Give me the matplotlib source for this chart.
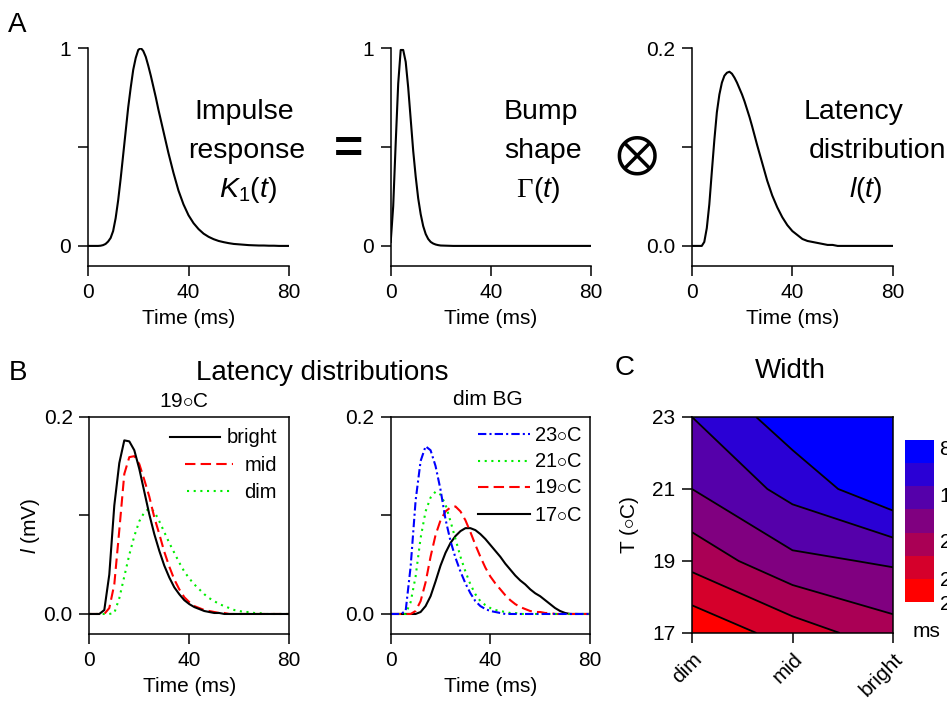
import matplotlib
matplotlib.use('Agg')
import matplotlib.pyplot as plt

plt.rcParams['font.family'] = ['Liberation Sans', 'DejaVu Sans']
plt.rcParams['mathtext.fontset'] = 'custom'
plt.rcParams['mathtext.rm'] = 'Liberation Sans'
plt.rcParams['mathtext.it'] = 'Liberation Sans:italic'
plt.rcParams['axes.linewidth'] = 1.1

# time axis (ms) for the sampled curves
time_ms = [0, 2, 4, 6, 8, 10, 12, 14, 16, 18, 20, 22, 24, 26, 28, 30, 32, 34, 36, 38, 40,
           42, 44, 46, 48, 50, 52, 54, 56, 58, 60, 62, 64, 66, 68, 70, 72, 74, 76, 78, 80]

# A: impulse response, bump shape, latency distribution (finer steps around the peaks)
k1_t = [0, 2, 4, 5, 6, 7, 8, 9, 10, 11, 12, 13, 14, 15, 16, 17, 18, 19, 20, 21, 22, 23, 24,
        25, 26, 27, 28, 29, 30, 32, 34, 36, 38, 40, 42, 44, 46, 48, 50, 52, 54, 56, 58, 60,
        62, 64, 66, 68, 70, 72, 74, 76, 80]
impulse_k1 = [0, 0, 0, 0.001, 0.004, 0.01, 0.022, 0.04, 0.075, 0.14, 0.23, 0.34, 0.46, 0.58,
              0.70, 0.80, 0.89, 0.95, 0.99, 1.0, 0.985, 0.955, 0.91, 0.86, 0.805, 0.75, 0.69,
              0.635, 0.58, 0.47, 0.37, 0.28, 0.21, 0.155, 0.115, 0.085, 0.062, 0.046, 0.034,
              0.025, 0.019, 0.014, 0.010, 0.008, 0.006, 0.004, 0.003, 0.002, 0.002, 0.001,
              0.001, 0, 0]
bump_t = [0, 1, 2, 3, 4, 5, 6, 7, 8, 9, 10, 11, 12, 13, 14, 15, 16, 17, 18, 19, 20, 25, 80]
bump_gamma = [0.02, 0.2, 0.52, 0.82, 0.99, 0.99, 0.93, 0.80, 0.64, 0.48, 0.35, 0.24, 0.16, 0.10,
              0.06, 0.035, 0.02, 0.012, 0.007, 0.004, 0.002, 0, 0]
lat_t = [0, 2, 4, 5, 6, 7, 8, 9, 10, 11, 12, 13, 14, 15, 16, 17, 18, 19, 20, 21, 22, 23, 24,
         26, 28, 30, 32, 34, 36, 38, 40, 42, 44, 46, 48, 50, 52, 54, 56, 58, 80]
latency_l = [0, 0, 0, 0.004, 0.018, 0.042, 0.075, 0.107, 0.135, 0.153, 0.165, 0.172, 0.175,
             0.176, 0.174, 0.170, 0.165, 0.159, 0.153, 0.146, 0.138, 0.130, 0.121, 0.102,
             0.084, 0.066, 0.051, 0.039, 0.029, 0.021, 0.015, 0.011, 0.007, 0.005, 0.004,
             0.003, 0.002, 0.001, 0.001, 0, 0]

# B left: 19 C, three backgrounds
bright = [0, 0, 0, 0.004, 0.04, 0.11, 0.153, 0.176, 0.175, 0.166, 0.147, 0.124, 0.101, 0.081,
          0.064, 0.049, 0.037, 0.027, 0.020, 0.014, 0.010, 0.007, 0.005, 0.003, 0.002, 0.001,
          0.001, 0, 0, 0, 0, 0, 0, 0, 0, 0, 0, 0, 0, 0, 0]
mid = [0, 0, 0, 0, 0.006, 0.03, 0.085, 0.142, 0.159, 0.160, 0.152, 0.136, 0.119, 0.098, 0.081,
       0.063, 0.048, 0.035, 0.025, 0.017, 0.012, 0.008, 0.006, 0.004, 0.003, 0.002, 0.001, 0.001,
       0, 0, 0, 0, 0, 0, 0, 0, 0, 0, 0, 0, 0]
dim = [0, 0, 0, 0, 0, 0.001, 0.016, 0.038, 0.06, 0.079, 0.094, 0.103, 0.107, 0.104, 0.094, 0.083,
       0.072, 0.062, 0.052, 0.043, 0.036, 0.030, 0.025, 0.020, 0.016, 0.013, 0.010, 0.008, 0.006,
       0.004, 0.003, 0.002, 0.002, 0.001, 0.001, 0, 0, 0, 0, 0, 0]

# B right: dim background, four temperatures
t23 = [0, 0, 0, 0.003, 0.048, 0.115, 0.155, 0.170, 0.166, 0.150, 0.126, 0.096, 0.074, 0.057,
       0.043, 0.031, 0.021, 0.013, 0.008, 0.005, 0.003, 0.002, 0.001, 0, 0, 0, 0, 0, 0, 0, 0,
       0, 0, 0, 0, 0, 0, 0, 0, 0, 0]
t21 = [0, 0, 0, 0, 0.012, 0.038, 0.077, 0.104, 0.118, 0.124, 0.121, 0.111, 0.094, 0.076, 0.058,
       0.043, 0.030, 0.020, 0.013, 0.009, 0.006, 0.004, 0.003, 0.002, 0.001, 0.001, 0, 0, 0, 0,
       0, 0, 0, 0, 0, 0, 0, 0, 0, 0, 0]
t19 = [0, 0, 0, 0, 0, 0.003, 0.013, 0.032, 0.058, 0.080, 0.095, 0.104, 0.108, 0.109, 0.104,
       0.095, 0.083, 0.070, 0.058, 0.047, 0.038, 0.031, 0.025, 0.019, 0.014, 0.010, 0.007,
       0.005, 0.003, 0.002, 0.002, 0.001, 0.001, 0, 0, 0, 0, 0, 0, 0, 0]
t17 = [0, 0, 0, 0, 0, 0, 0.002, 0.008, 0.018, 0.033, 0.049, 0.062, 0.072, 0.079, 0.084, 0.087,
       0.087, 0.085, 0.081, 0.076, 0.070, 0.064, 0.058, 0.051, 0.045, 0.039, 0.034, 0.030, 0.025,
       0.021, 0.018, 0.014, 0.010, 0.006, 0.003, 0.001, 0, 0, 0, 0, 0]

# C: width (ms) over background x temperature
backgrounds = ['dim', 'mid', 'bright']
temps = [17, 19, 21, 23]
width_ms = [[27.5, 23.6, 20.2],
            [21.0, 16.7, 15.6],
            [16.0, 12.0, 7.6],
            [13.0, 8.3, 7.2]]
width_levels = [7, 10, 13, 16, 19, 22, 25, 28]
cbar_ticks = [8, 14, 20, 25, 28]

DEG = r'$\circ$'

W, H = 947, 705
fig = plt.figure(figsize=(W / 100, H / 100), dpi=100)


def box(l, t, r, b):
    return [l / W, 1 - b / H, (r - l) / W, (b - t) / H]


def ftext(x, y, s, **kw):
    kw.setdefault('fontsize', 20.5)
    kw.setdefault('va', 'baseline')
    kw.setdefault('ha', 'center')
    fig.text(x / W, 1 - y / H, s, **kw)


def style_axes(ax, ymax, ylabels, frame):
    ax.set_xlim(0, 80)
    ax.set_ylim(-0.1015 * ymax, ymax)
    ax.set_xticks([0, 40, 80])
    ax.set_yticks([0, ymax / 2, ymax])
    ax.set_yticklabels(ylabels)
    ax.tick_params(direction='out', length=7, width=1.1, labelsize=15, pad=5)
    ax.set_xlabel('Time (ms)', fontsize=15, labelpad=5)
    if not frame:
        ax.spines[['top', 'right']].set_visible(False)


lw = 1.5
red_dash = dict(color='#ff0000', lw=lw, ls=(0, (5, 2.5)))
green_dot = dict(color='#00ee00', lw=lw, ls=(0, (1, 2.2)))
blue_dashdot = dict(color='#0000ff', lw=lw, ls=(0, (4, 1.5, 1, 1.5)))
black = dict(color='black', lw=lw)

# ---- A
ax1 = fig.add_axes(box(88, 48, 289, 266))
ax1.plot(k1_t, impulse_k1, **black)
style_axes(ax1, 1, ['0', '', '1'], False)

ax2 = fig.add_axes(box(390.7, 48, 590.7, 266))
ax2.plot(bump_t, bump_gamma, **black)
style_axes(ax2, 1, ['0', '', '1'], False)

ax3 = fig.add_axes(box(691.7, 48, 893, 266))
ax3.plot(lat_t, latency_l, **black)
style_axes(ax3, 0.2, ['0.0', '', '0.2'], False)

ftext(17, 32, 'A', fontsize=20)
ftext(244, 119, 'Impulse')
ftext(247, 158, 'response')
ftext(248, 197, r'$K_{\mathit{1}}(t)$')
ftext(348, 164, '=', fontsize=36, fontweight='bold')
ftext(541, 119, 'Bump')
ftext(543, 158, 'shape')
ftext(533, 197, '\u0393', ha='right', family='Liberation Serif')
ftext(533, 197, r'$(t)$', ha='left')
ftext(636, 149, r'$\otimes$', fontsize=38, va='center_baseline', math_fontfamily='stix')
ftext(854, 119, 'Latency')
ftext(877, 158, 'distribution')
ftext(866, 197, r'$l(t)$')

# ---- B
ax4 = fig.add_axes(box(89.3, 416.7, 289.3, 634))
ax4.plot(time_ms, dim, **green_dot)
ax4.plot(time_ms, mid, **red_dash)
ax4.plot(time_ms, bright, **black)
style_axes(ax4, 0.2, ['0.0', '', '0.2'], True)
ax4.set_ylabel(r'$l$ (mV)', fontsize=15, labelpad=1)

ax5 = fig.add_axes(box(390.7, 416.7, 590, 634))
ax5.plot(time_ms, t17, **black)
ax5.plot(time_ms, t19, **red_dash)
ax5.plot(time_ms, t21, **green_dot)
ax5.plot(time_ms, t23, **blue_dashdot)
style_axes(ax5, 0.2, ['0.0', '', '0.2'], True)


def key_rows(ax, rows, xtext):
    for label, style, x0, x1, y in rows:
        ax.plot([x0, x1], [y, y], transform=ax.transAxes, clip_on=False, **style)
        ax.text(xtext, y - 0.03, label, transform=ax.transAxes, ha='right', va='baseline',
                fontsize=14.5)


key_rows(ax4, [('bright', black, 0.404, 0.654, 0.908),
               ('mid', red_dash, 0.478, 0.718, 0.782),
               ('dim', green_dot, 0.488, 0.718, 0.658)], 0.9385)
key_rows(ax5, [('23' + DEG + 'C', blue_dashdot, 0.438, 0.699, 0.919),
               ('21' + DEG + 'C', green_dot, 0.438, 0.699, 0.797),
               ('19' + DEG + 'C', red_dash, 0.438, 0.699, 0.678),
               ('17' + DEG + 'C', black, 0.438, 0.699, 0.551)], 0.960)

ftext(18, 380, 'B', fontsize=20)
ftext(322, 380, 'Latency distributions', fontsize=20)
ftext(184, 407, '19' + DEG + 'C', fontsize=15)
ftext(488, 405, 'dim BG', fontsize=15)

# ---- C
band_colors = []
for i in range(7):
    f = i / 6
    band_colors.append((1 - f, 0, f))
band_colors = band_colors[::-1]

ax6 = fig.add_axes(box(692, 417, 893, 633))
xpos = list(range(len(backgrounds)))
cf = ax6.contourf(xpos, temps, width_ms, levels=width_levels, colors=band_colors)
ax6.contour(xpos, temps, width_ms, levels=width_levels[1:-1], colors='black', linewidths=1.3)
ax6.set_xlim(0, 2)
ax6.set_ylim(17, 23)
ax6.set_xticks(xpos)
ax6.set_xticklabels(backgrounds, rotation=45, ha='right', va='top', rotation_mode='anchor')
ax6.set_yticks(temps)
ax6.tick_params(direction='out', length=7, width=1.1, labelsize=15, pad=5)
ax6.set_ylabel('T (' + DEG + 'C)', fontsize=15, labelpad=8)

cax = fig.add_axes(box(905, 440, 934, 602))
cbar = fig.colorbar(cf, cax=cax, ticks=cbar_ticks)
cax.invert_yaxis()
cbar.outline.set_visible(False)
cax.tick_params(length=0, labelsize=15, pad=4)

ftext(625, 375, 'C', fontsize=20)
ftext(790, 378, 'Width', fontsize=20)
ftext(926, 637, 'ms', fontsize=15)

fig.savefig('out.png', dpi=100)
